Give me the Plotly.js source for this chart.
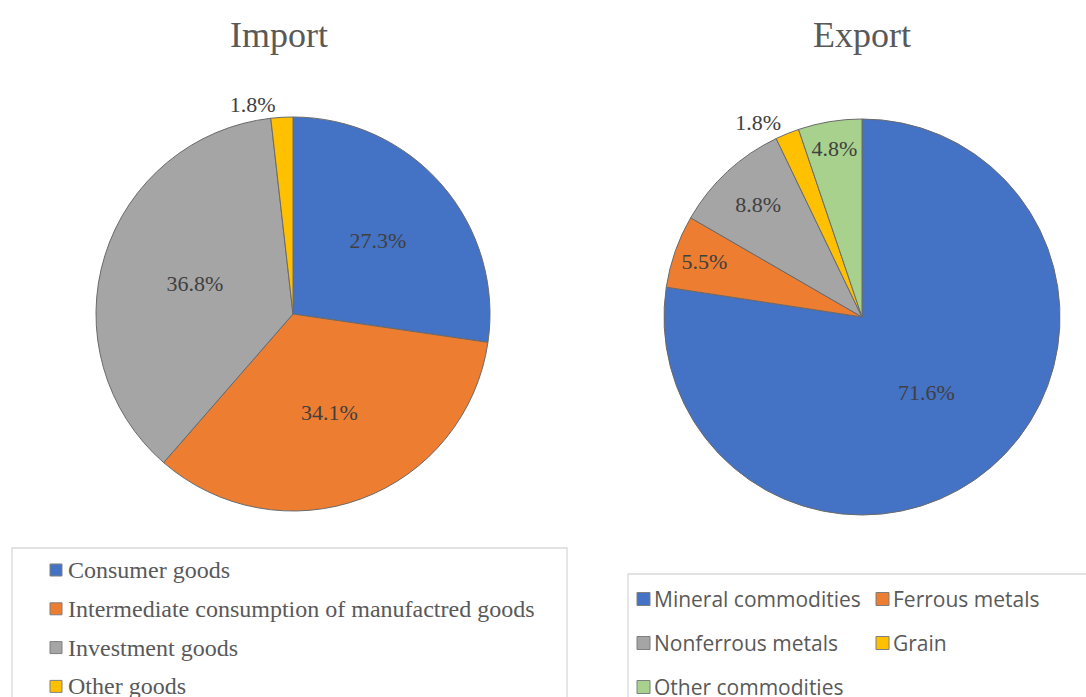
<!DOCTYPE html>
<html>
<head>
<meta charset="utf-8">
<script src="https://cdn.plot.ly/plotly-3.0.1.min.js"></script>
<style>html,body{margin:0;padding:0;background:#fff;}#chart{width:1086px;height:697px;}</style>
</head>
<body>
<div id="chart"></div>
<script>
// ---- data ----
const importTitle = "Import";
const exportTitle = "Export";
const importLabels = ["Consumer goods", "Intermediate consumption of manufactred goods", "Investment goods", "Other goods"];
const importValues = [27.3, 34.1, 36.8, 1.8];
const importColors = ["#4472C4", "#ED7D31", "#A5A5A5", "#FFC000"];
const exportLabels = ["Mineral commodities", "Ferrous metals", "Nonferrous metals", "Grain", "Other commodities"];
const exportValues = [71.6, 5.5, 8.8, 1.8, 4.8];
const exportColors = ["#4472C4", "#ED7D31", "#A5A5A5", "#FFC000", "#A9D18E"];

// ---- layout helpers ----
const W = 1086, H = 697;
const px = x => x / W;
const py = y => 1 - y / H;
const serif = "Liberation Serif, Times New Roman, serif";
const sans = "Open Sans, Noto Sans, sans-serif";
const pct = v => v.toFixed(1) + "%";

const labelFont = {family: serif, size: 22, color: "#404040"};

const traces = [
  {
    type: "pie", labels: importLabels, values: importValues,
    text: importValues.map(pct), textinfo: "text", hoverinfo: "label+text",
    sort: false, direction: "clockwise", rotation: 0,
    marker: {colors: importColors, line: {color: "#6a6a6a", width: 1}},
    textposition: "auto", insidetextorientation: "horizontal",
    textfont: labelFont, insidetextfont: labelFont, outsidetextfont: labelFont,
    domain: {x: [px(96), px(490)], y: [py(511), py(117)]},
    showlegend: false
  },
  {
    type: "pie", labels: exportLabels, values: exportValues,
    text: exportValues.map(pct), textinfo: "text", hoverinfo: "label+text",
    sort: false, direction: "clockwise", rotation: 0,
    marker: {colors: exportColors, line: {color: "#6a6a6a", width: 1}},
    textposition: "auto", insidetextorientation: "horizontal",
    textfont: labelFont, insidetextfont: labelFont, outsidetextfont: labelFont,
    domain: {x: [px(664), px(1060)], y: [py(515), py(119)]},
    showlegend: false
  }
];

const shapes = [];
const annotations = [];

// titles
annotations.push({text: importTitle, x: px(279), y: py(35), xref: "paper", yref: "paper",
  showarrow: false, xanchor: "center", yanchor: "middle", font: {family: serif, size: 36, color: "#595959"}});
annotations.push({text: exportTitle, x: px(862), y: py(35), xref: "paper", yref: "paper",
  showarrow: false, xanchor: "center", yanchor: "middle", font: {family: serif, size: 36, color: "#595959"}});

// legend boxes
shapes.push({type: "rect", xref: "paper", yref: "paper", x0: px(12), x1: px(567), y0: py(548), y1: py(720),
  line: {color: "#D9D9D9", width: 1.3}, fillcolor: "rgba(0,0,0,0)", layer: "below"});
shapes.push({type: "rect", xref: "paper", yref: "paper", x0: px(628), x1: px(1110), y0: py(574), y1: py(720),
  line: {color: "#D9D9D9", width: 1.3}, fillcolor: "rgba(0,0,0,0)", layer: "below"});

// import legend (vertical)
importLabels.forEach((lab, i) => {
  const cy = 570 + i * 38.8;
  shapes.push({type: "rect", xref: "paper", yref: "paper", x0: px(50), x1: px(62), y0: py(cy + 6), y1: py(cy - 6),
    fillcolor: importColors[i], line: {color: "#7f7f7f", width: 1}});
  annotations.push({text: lab, x: px(66), y: py(cy), xref: "paper", yref: "paper", showarrow: false,
    xanchor: "left", yanchor: "middle", font: {family: serif, size: 24, color: "#595959"}});
});

// export legend (2 columns)
const colX = [637, 876];
exportLabels.forEach((lab, i) => {
  const col = i % 2, row = Math.floor(i / 2);
  const cy = 599 + row * 44;
  const sx = colX[col];
  shapes.push({type: "rect", xref: "paper", yref: "paper", x0: px(sx), x1: px(sx + 13), y0: py(cy + 6.5), y1: py(cy - 6.5),
    fillcolor: exportColors[i], line: {color: "#7f7f7f", width: 1}});
  annotations.push({text: lab, x: px(sx + 15), y: py(cy), xref: "paper", yref: "paper", showarrow: false,
    xanchor: "left", yanchor: "middle", font: {family: sans, size: 21, color: "#595959"}});
});

const layout = {
  width: W, height: H,
  margin: {l: 0, r: 0, t: 0, b: 0},
  paper_bgcolor: "#fff", plot_bgcolor: "#fff",
  showlegend: false,
  shapes: shapes, annotations: annotations
};

Plotly.newPlot("chart", traces, layout, {displayModeBar: false, staticPlot: true});
</script>
</body>
</html>
